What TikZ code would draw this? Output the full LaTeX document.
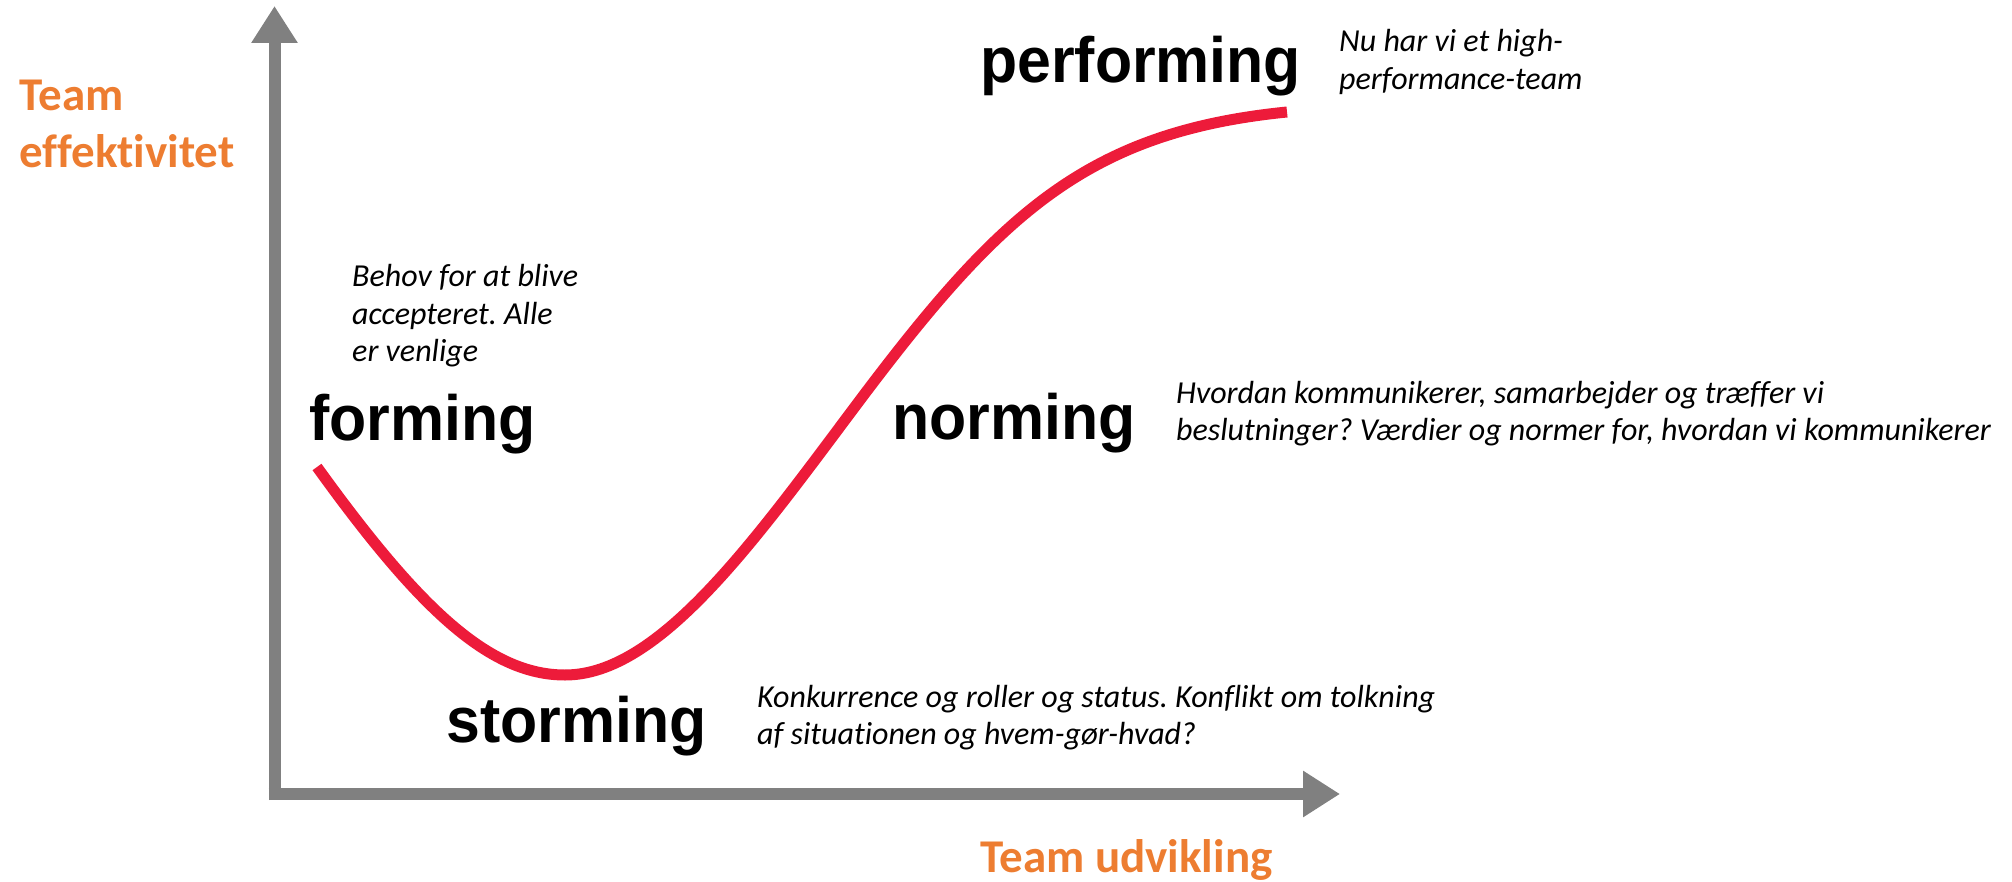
\documentclass[tikz,border=0pt]{standalone}
\usepackage{fontspec}
\setmainfont{Carlito}[Ligatures=NoCommon]
\newfontfamily\stagefont[FakeStretch=0.95]{Liberation Sans}
\usetikzlibrary{arrows.meta}
\definecolor{axisgray}{RGB}{128,128,128}
\definecolor{curvered}{RGB}{237,27,58}
\definecolor{labelorange}{RGB}{237,125,49}
% left-aligned block whose baseline is that of its first line
\newcommand{\lines}[1]{\begin{tabular}[t]{@{}l@{}}#1\end{tabular}}

\begin{document}
\begin{tikzpicture}[x=1pt,y=-1pt,
  axis/.style={draw=axisgray,line width=12pt,-{Triangle[length=37pt,width=44pt]}},
  stage/.style={font=\stagefont\bfseries\fontsize{64}{70}\selectfont,inner sep=0pt,anchor=base west},
  note/.style={font=\itshape\frenchspacing\fontsize{32}{37.5}\selectfont,inner sep=0pt,anchor=base west},
  axislabel/.style={font=\bfseries\fontsize{47}{57}\selectfont,text=labelorange,inner sep=0pt,anchor=base west}]
\useasboundingbox (0,0) rectangle (2012,882);

% axes
\coordinate (ybottom) at (274.5,800);
\coordinate (ytip) at (274.5,6);
\coordinate (xstart) at (268.5,794);
\coordinate (xtip) at (1340,794);
\draw[axis] (ybottom) -- (ytip);
\draw[axis] (xstart) -- (xtip);

% team development curve
\coordinate (cstart) at (317,467);
\coordinate (cmin) at (565,675);
\coordinate (cmid) at (860,400);
\coordinate (cend) at (1287,112);
\draw[curvered,line width=11pt]
  (cstart) .. controls (420,610) and (490,675) .. (cmin)
           .. controls (660,675) and (755,540) .. (cmid)
           .. controls (1000,214) and (1087,132) .. (cend);

% axis labels
\node[axislabel] (ylabel) at (19,111) {\lines{Team\\effektivitet}};
\node[axislabel] (xlabel) at (980,872) {Team udvikling};

% stages
\node[stage] (forming) at (309,440) {forming};
\node[stage] (storming) at (446,742) {storming};
\node[stage] (norming) at (892,439) {norming};
\node[stage] (performing) at (980,83) {performing};

% descriptions
\node[note] (formingtxt) at (352,287) {\lines{Behov for at blive\\accepteret. Alle\\er venlige}};
\node[note] (stormingtxt) at (757,707) {\lines{Konkurrence og roller og status. Konflikt om tolkning\\af situationen og hvem-gør-hvad?}};
\node[note] (normingtxt) at (1176,403) {\lines{Hvordan kommunikerer, samarbejder og træffer vi\\beslutninger? Værdier og normer for, hvordan vi kommunikerer}};
\node[note] (performingtxt) at (1339,52) {\lines{Nu har vi et high-\\performance-team}};
\end{tikzpicture}
\end{document}
